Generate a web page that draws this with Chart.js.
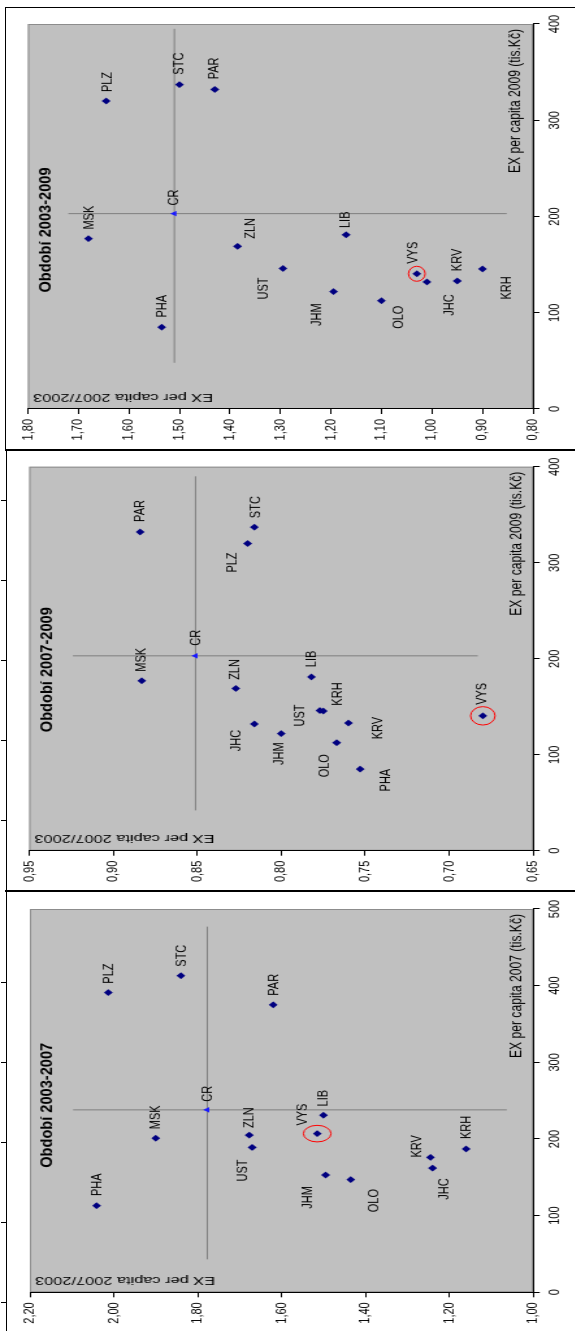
<!DOCTYPE html>
<html>
<head>
<meta charset="utf-8">
<script src="https://cdn.jsdelivr.net/npm/chart.js@4.4.1/dist/chart.umd.min.js"></script>
<style>
  html, body { margin: 0; padding: 0; background: #fff; }
  body { position: relative; width: 575px; height: 1331px; overflow: hidden; }
  .panel { position: absolute; left: 0; top: 0; transform-origin: 0 0; }
  .panel canvas { display: block; }
  .rule { position: absolute; background: #000; z-index: 5; }
</style>
</head>
<body>
<div class="panel" id="p1"><canvas id="c1" width="443" height="443"></canvas></div>
<div class="panel" id="p2"><canvas id="c2" width="441" height="443"></canvas></div>
<div class="panel" id="p3"><canvas id="c3" width="445" height="443"></canvas></div>

<!-- frames around the three panels -->
<div class="rule" style="left:5px;top:7px;width:570px;height:1px"></div>
<div class="rule" style="left:5px;top:7px;width:1px;height:443px"></div>
<div class="rule" style="left:5px;top:449px;width:570px;height:2px"></div>
<div class="rule" style="left:6px;top:449px;width:1px;height:442px"></div>
<div class="rule" style="left:5px;top:890px;width:570px;height:2px"></div>
<div class="rule" style="left:6px;top:890px;width:1px;height:441px"></div>
<div class="rule" style="left:1px;top:500px;width:5px;height:1px"></div>
<div class="rule" style="left:1px;top:580px;width:5px;height:1px"></div>
<div class="rule" style="left:1px;top:660px;width:5px;height:1px"></div>
<div class="rule" style="left:1px;top:740px;width:5px;height:1px"></div>
<div class="rule" style="left:1px;top:820px;width:5px;height:1px"></div>
<div class="rule" style="left:1px;top:982px;width:5px;height:1px"></div>
<div class="rule" style="left:1px;top:1062px;width:5px;height:1px"></div>
<div class="rule" style="left:1px;top:1142px;width:5px;height:1px"></div>
<div class="rule" style="left:1px;top:1222px;width:5px;height:1px"></div>
<div class="rule" style="left:1px;top:1302px;width:5px;height:1px"></div>

<script>
// Regions (kraje) in plotting order
const regions = ['PHA', 'STC', 'JHC', 'PLZ', 'KRV', 'UST', 'LIB', 'KRH', 'PAR', 'VYS', 'JHM', 'OLO', 'ZLN', 'MSK'];

// EX per capita (tis. Kč)
const ex2009 = [85, 337, 132, 320, 133, 146, 181, 145.5, 332, 140.5, 122, 112.5, 169, 177];
const ex2007 = [113, 413, 162, 391, 176, 189, 231, 187, 375, 207, 153, 147, 205, 201];

// growth indices
const idx0903 = [1.535, 1.50, 1.01, 1.645, 0.95, 1.295, 1.17, 0.90, 1.43, 1.03, 1.195, 1.10, 1.385, 1.68];
const idx0907 = [0.753, 0.816, 0.816, 0.820, 0.760, 0.777, 0.782, 0.775, 0.884, 0.680, 0.800, 0.767, 0.827, 0.883];
const idx0703 = [2.041, 1.84, 1.24, 2.013, 1.245, 1.67, 1.50, 1.16, 1.62, 1.515, 1.495, 1.435, 1.677, 1.90];

// Czech Republic as a whole (CR)
const crEx2009 = 203;
const crEx2007 = 238;
const cr0903 = 1.51;
const cr0907 = 0.851;
const cr0703 = 1.777;

// extent of the cross drawn through CR
const crossEx0903 = [48, 395];
const crossIdx0903 = [0.852, 1.72];
const crossEx0907 = [42, 390];
const crossIdx0907 = [0.683, 0.924];
const crossEx0703 = [43, 477];
const crossIdx0703 = [1.063, 2.097];

// axis ticks
const ticksEx2009 = [0, 100, 200, 300, 400];
const ticksEx2007 = [0, 100, 200, 300, 400, 500];
const ticks0903 = [0.80, 0.90, 1.00, 1.10, 1.20, 1.30, 1.40, 1.50, 1.60, 1.70, 1.80];
const ticks0907 = [0.65, 0.70, 0.75, 0.80, 0.85, 0.90, 0.95];
const ticks0703 = [1.00, 1.20, 1.40, 1.60, 1.80, 2.00, 2.20];

const highlighted = 'VYS';

// ---------- drawing setup ----------
const FONT = '"Liberation Sans", Arial, sans-serif';
const STRETCH = 1.3;   // vertical stretch of the pasted charts

function fitText(ctx, text, x, y, font, width, rot, align, baseline) {
  ctx.save();
  ctx.font = font;
  const k = width / ctx.measureText(text).width;
  ctx.translate(x, y);
  if (rot) ctx.rotate(rot);
  ctx.scale(k, 1);
  ctx.textAlign = align;
  ctx.textBaseline = baseline;
  ctx.fillStyle = '#000';
  ctx.fillText(text, 0, 0);
  ctx.restore();
}

function decorPlugin(p) {
  return {
    id: 'decor' + p.id,
    beforeDraw(chart) {
      const a = chart.chartArea, ctx = chart.ctx;
      ctx.save();
      ctx.fillStyle = '#c0c0c0';
      ctx.fillRect(a.left, a.top, a.right - a.left, a.bottom - a.top);
      ctx.strokeStyle = '#8c8c8c';
      ctx.lineWidth = 1;
      ctx.strokeRect(a.left + 0.5, a.top + 0.5, a.right - a.left - 1, a.bottom - a.top - 1);
      ctx.restore();
    },
    afterDatasetsDraw(chart) {
      const a = chart.chartArea, ctx = chart.ctx;
      const pts = chart.getDatasetMeta(0).data;
      const cr = chart.getDatasetMeta(1).data[0];

      // ring around the highlighted region
      const h = pts[regions.indexOf(highlighted)];
      ctx.save();
      ctx.strokeStyle = '#ff0000';
      ctx.lineWidth = 1;
      ctx.beginPath();
      ctx.ellipse(h.x, h.y, p.ring[0], p.ring[1], 0, 0, Math.PI * 2);
      ctx.stroke();
      ctx.restore();

      // point labels
      ctx.save();
      ctx.font = '11px ' + FONT;
      ctx.fillStyle = '#000';
      ctx.textAlign = 'center';
      ctx.textBaseline = 'middle';
      regions.forEach((r, i) => {
        const o = p.nudge[r];
        ctx.fillText(r, pts[i].x + o[0], pts[i].y + o[1]);
      });
      ctx.fillText('CR', cr.x + p.nudge.CR[0], cr.y + p.nudge.CR[1]);
      ctx.restore();

      // panel title
      fitText(ctx, p.title, a.left + p.titleX, a.top + 17.3,
              'bold 12.6px ' + FONT, 125 / 1.0, 0, 'center', 'alphabetic');
      // value axis caption (inside plot, top-left)
      fitText(ctx, 'EX per capita 2007/2003', a.left + 12.3, a.top + 4 + 138.5,
              '11px ' + FONT, 138.5, -Math.PI / 2, 'left', 'middle');
      // EX axis caption (inside plot, bottom-right)
      fitText(ctx, p.exTitle, a.right - 5, a.bottom - 13,
              '12px ' + FONT, 144, 0, 'right', 'middle');
    }
  };
}

function buildPanel(p) {
  const el = document.getElementById(p.panel);
  el.style.transform = `translate(0px, ${p.sy}px) rotate(-90deg) scale(1, ${STRETCH})`;
  const canvas = document.getElementById(p.canvas);
  const W = canvas.width, H = canvas.height;
  const [L, R, T, B] = p.area;

  const pts = regions.map((r, i) => ({ x: p.ex[i], y: p.idx[i] }));
  const crossA = p.crossEx.map(v => ({ x: v, y: p.crIdx }));
  const crossB = p.crossIdx.map(v => ({ x: p.crEx, y: v }));

  new Chart(canvas, {
    type: 'scatter',
    data: {
      datasets: [
        { data: pts, pointStyle: 'rectRot', pointRadius: 3.4, backgroundColor: '#000080',
          borderColor: '#000080', borderWidth: 0, order: 0 },
        { data: [{ x: p.crEx, y: p.crIdx }], pointStyle: 'triangle', pointRadius: 3.2,
          backgroundColor: '#1a1aff', borderColor: '#1a1aff', borderWidth: 0, order: 0 },
        { data: crossA, showLine: true, borderColor: '#7f7f7f', borderWidth: 1, pointRadius: 0, order: 5 },
        { data: crossB, showLine: true, borderColor: '#7f7f7f', borderWidth: 1, pointRadius: 0, order: 5 }
      ]
    },
    options: {
      responsive: false,
      devicePixelRatio: 1,
      animation: false,
      events: [],
      layout: { padding: { top: T, right: W - R, left: 0, bottom: 0 } },
      plugins: { legend: { display: false }, tooltip: { enabled: false }, title: { display: false } },
      scales: {
        x: {
          type: 'linear', position: 'bottom',
          min: p.exTicks[0], max: p.exTicks[p.exTicks.length - 1],
          afterBuildTicks: s => { s.ticks = p.exTicks.map(v => ({ value: v })); },
          afterFit: s => { s.height = H - B; },
          ticks: { font: { family: FONT, size: 11 }, color: '#000', padding: 5, maxRotation: 0,
                   autoSkip: false, callback: v => String(v) },
          grid: { drawOnChartArea: false, drawTicks: true, tickLength: 5, color: '#000' },
          border: { display: true, color: '#000', width: 1 }
        },
        y: {
          type: 'linear', position: 'left',
          min: p.idxTicks[0], max: p.idxTicks[p.idxTicks.length - 1],
          afterBuildTicks: s => { s.ticks = p.idxTicks.map(v => ({ value: v })); },
          afterFit: s => { s.width = L; },
          ticks: { font: { family: FONT, size: 11 }, color: '#000', padding: 5, autoSkip: false,
                   callback: v => v.toFixed(2).replace('.', ',') },
          grid: { drawOnChartArea: false, drawTicks: true, tickLength: 5, color: '#000' },
          border: { display: true, color: '#000', width: 1 }
        }
      }
    },
    plugins: [decorPlugin(p)]
  });
}

buildPanel({
  id: 1, panel: 'p1', canvas: 'c1', sy: 450, area: [41, 426, 21.5, 410],
  title: 'Období 2003-2009', exTitle: 'EX per capita 2009 (tis.Kč)', titleX: 179,
  ex: ex2009, idx: idx0903, crEx: crEx2009, crIdx: cr0903,
  crossEx: crossEx0903, crossIdx: crossIdx0903,
  exTicks: ticksEx2009, idxTicks: ticks0903, ring: [7.5, 6.4],
  nudge: { PLZ: [19, 1.6], STC: [21, 0], PAR: [21, 0], CR: [16, 0], MSK: [21, 1], ZLN: [18, 10],
           UST: [-20, -15], PHA: [21, 1], LIB: [15, 0], JHM: [-23, -12.5], OLO: [-16.5, 13.3],
           VYS: [21, -3], JHC: [-23, 18], KRV: [21, 0], KRH: [-19, 19] }
});

buildPanel({
  id: 2, panel: 'p2', canvas: 'c2', sy: 891, area: [40.3, 424.3, 22.5, 410.2],
  title: 'Období 2007-2009', exTitle: 'EX per capita 2009 (tis.Kč)', titleX: 181,
  ex: ex2009, idx: idx0907, crEx: crEx2009, crIdx: cr0907,
  crossEx: crossEx0907, crossIdx: crossIdx0907,
  exTicks: ticksEx2009, idxTicks: ticks0907, ring: [9.2, 9.4],
  nudge: { PAR: [21, 0], STC: [20, 1], PLZ: [-19, -12], CR: [18, 1], MSK: [21, 0], ZLN: [19, 0],
           JHC: [-16.5, -14], JHM: [-20, -1], LIB: [18, 0], UST: [-5, -15.6], KRH: [17, 11],
           KRV: [-5, 23], OLO: [-23, -9], PHA: [-11, 20], VYS: [22, 0] }
});

buildPanel({
  id: 3, panel: 'p3', canvas: 'c3', sy: 1336, area: [43.7, 427, 23, 410.2],
  title: 'Období 2003-2007', exTitle: 'EX per capita 2007 (tis.Kč)', titleX: 187,
  ex: ex2007, idx: idx0703, crEx: crEx2007, crIdx: cr0703,
  crossEx: crossEx0703, crossIdx: crossIdx0703,
  exTicks: ticksEx2007, idxTicks: ticks0703, ring: [8.3, 10.6],
  nudge: { PLZ: [19, 0.5], STC: [20, 0.5], PAR: [20, 0.5], CR: [16, 0], MSK: [21, 0.5], ZLN: [17.5, 0],
           UST: [-23, -7], PHA: [21, 0.5], LIB: [17, 0], VYS: [19, -11.5], JHM: [-22.5, -14],
           OLO: [-21, 18.5], KRV: [11, -10], JHC: [-21, 9], KRH: [21.5, 0] }
});
</script>
</body>
</html>
